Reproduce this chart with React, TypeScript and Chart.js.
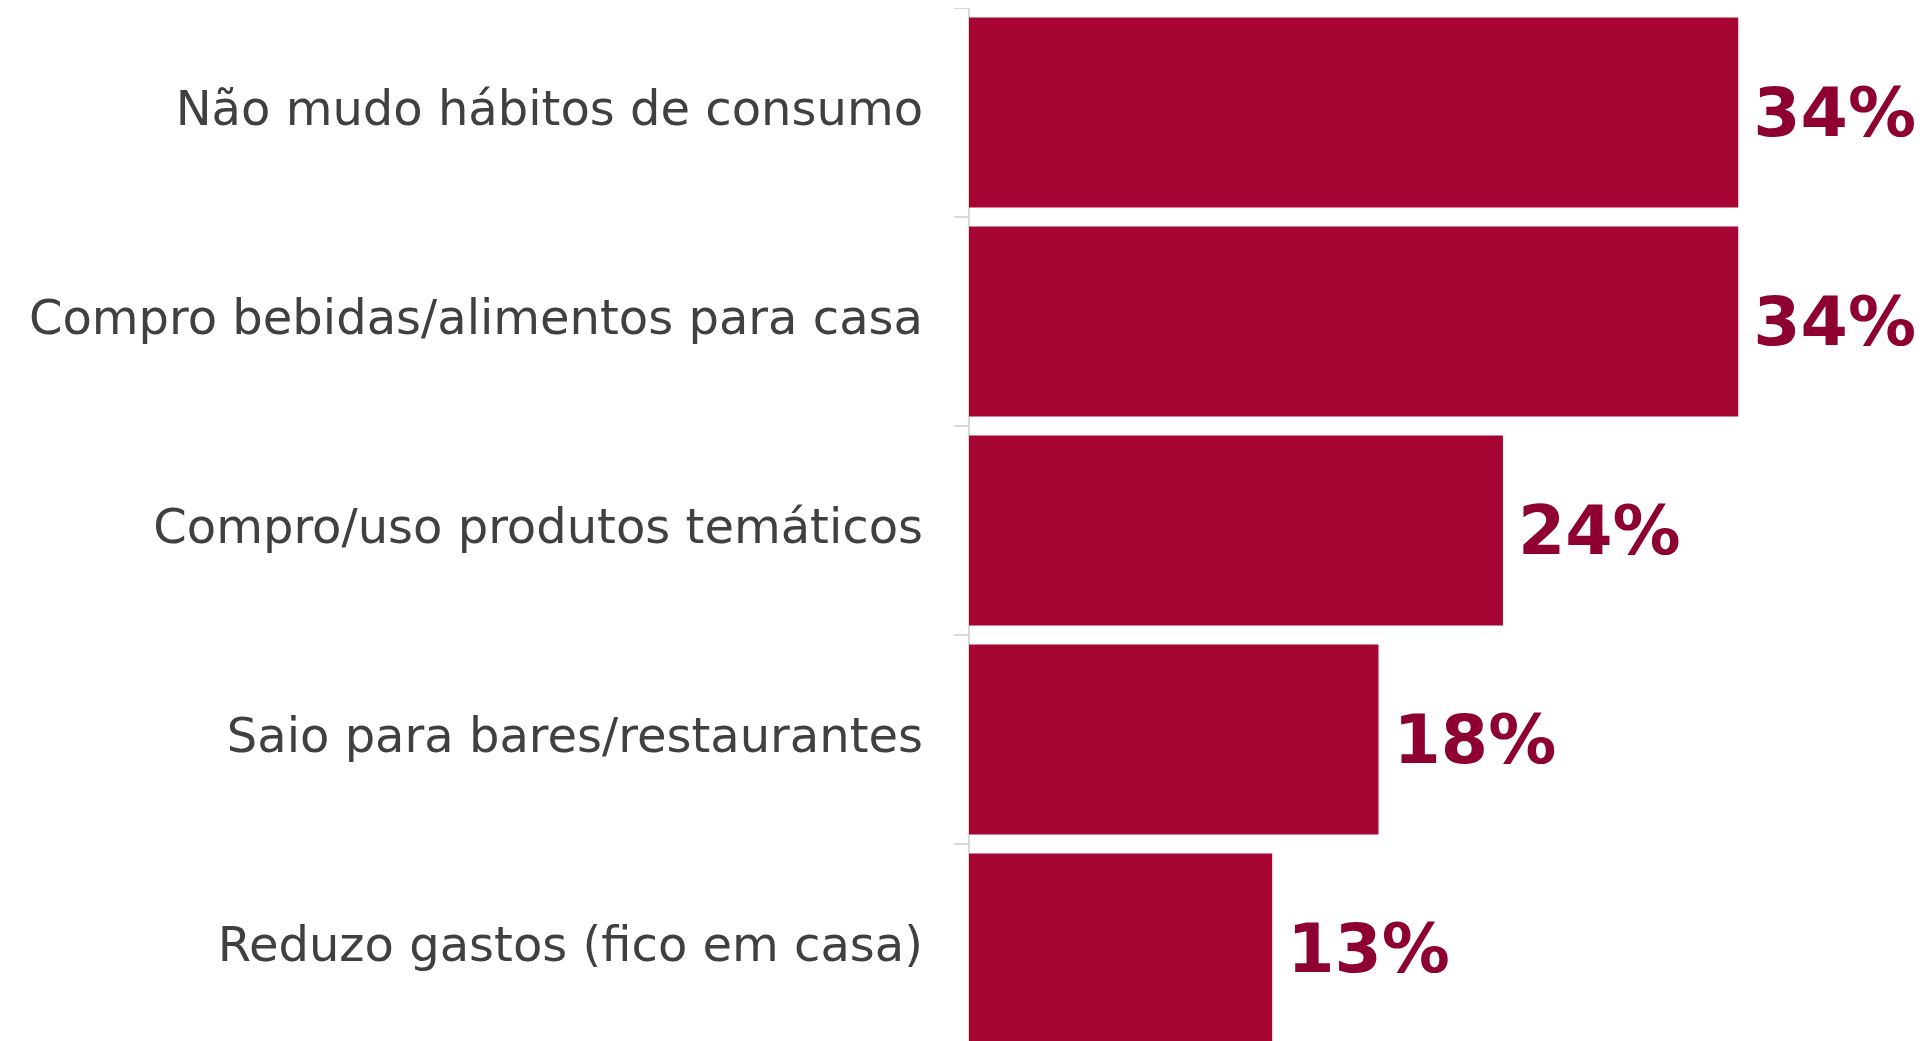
import React, { useEffect, useRef } from "react";
import { Chart, registerables } from "chart.js";

Chart.register(...registerables);

const categories = [
  "Não mudo hábitos de consumo",
  "Compro bebidas/alimentos para casa",
  "Compro/uso produtos temáticos",
  "Saio para bares/restaurantes",
  "Reduzo gastos (fico em casa)",
];
const values = [34, 34, 23.6, 18.1, 13.4];

const BAR_COLOR = "#a70533";
const VALUE_COLOR = "#8e0032";
const LABEL_COLOR = "#404040";
const AXIS_COLOR = "#d9d9d9";

const valueLabels = {
  id: "valueLabels",
  afterDatasetsDraw(chart: any) {
    const ctx = chart.ctx;
    const meta = chart.getDatasetMeta(0);
    ctx.save();
    ctx.font = "bold 68px 'DejaVu Sans'";
    ctx.fillStyle = VALUE_COLOR;
    ctx.textAlign = "left";
    ctx.textBaseline = "middle";
    meta.data.forEach((bar: any, i: number) => {
      const v = chart.data.datasets[0].data[i];
      ctx.fillText(Math.round(v) + "%", bar.x + 15, bar.y + 6);
    });
    ctx.restore();
  },
};

export default function App() {
  const ref = useRef<HTMLCanvasElement | null>(null);
  useEffect(() => {
    if (!ref.current) return;
    const chart = new Chart(ref.current, {
      type: "bar",
      data: {
        labels: categories,
        datasets: [
          {
            data: values,
            backgroundColor: BAR_COLOR,
            borderWidth: 0,
            barPercentage: 0.91,
            categoryPercentage: 1,
          },
        ],
      },
      options: {
        indexAxis: "y",
        responsive: false,
        animation: false,
        devicePixelRatio: 1,
        layout: { padding: { top: 0, bottom: 0, left: 0, right: 55 } },
        plugins: {
          legend: { display: false },
          tooltip: { enabled: false },
        },
        scales: {
          x: {
            display: false,
            min: 0,
            max: 40,
          },
          y: {
            afterFit: (scale: any) => {
              scale.width = 961;
              scale.paddingTop = 0;
              scale.paddingBottom = 0;
            },
            grid: {
              offset: true,
              drawOnChartArea: false,
              drawTicks: true,
              tickLength: 15,
              color: AXIS_COLOR,
              lineWidth: 2,
            },
            border: { display: true, color: AXIS_COLOR, width: 2 },
            ticks: {
              padding: 31,
              color: LABEL_COLOR,
              font: { family: "'DejaVu Sans'", size: 48 },
            },
          },
        },
      },
      plugins: [valueLabels],
    });
    return () => chart.destroy();
  }, []);
  return (
    <div style={{ position: "fixed", left: 8, top: 8, width: 1921, height: 1045 }}>
      <canvas ref={ref} width={1921} height={1045} style={{ width: 1921, height: 1045 }} />
    </div>
  );
}
